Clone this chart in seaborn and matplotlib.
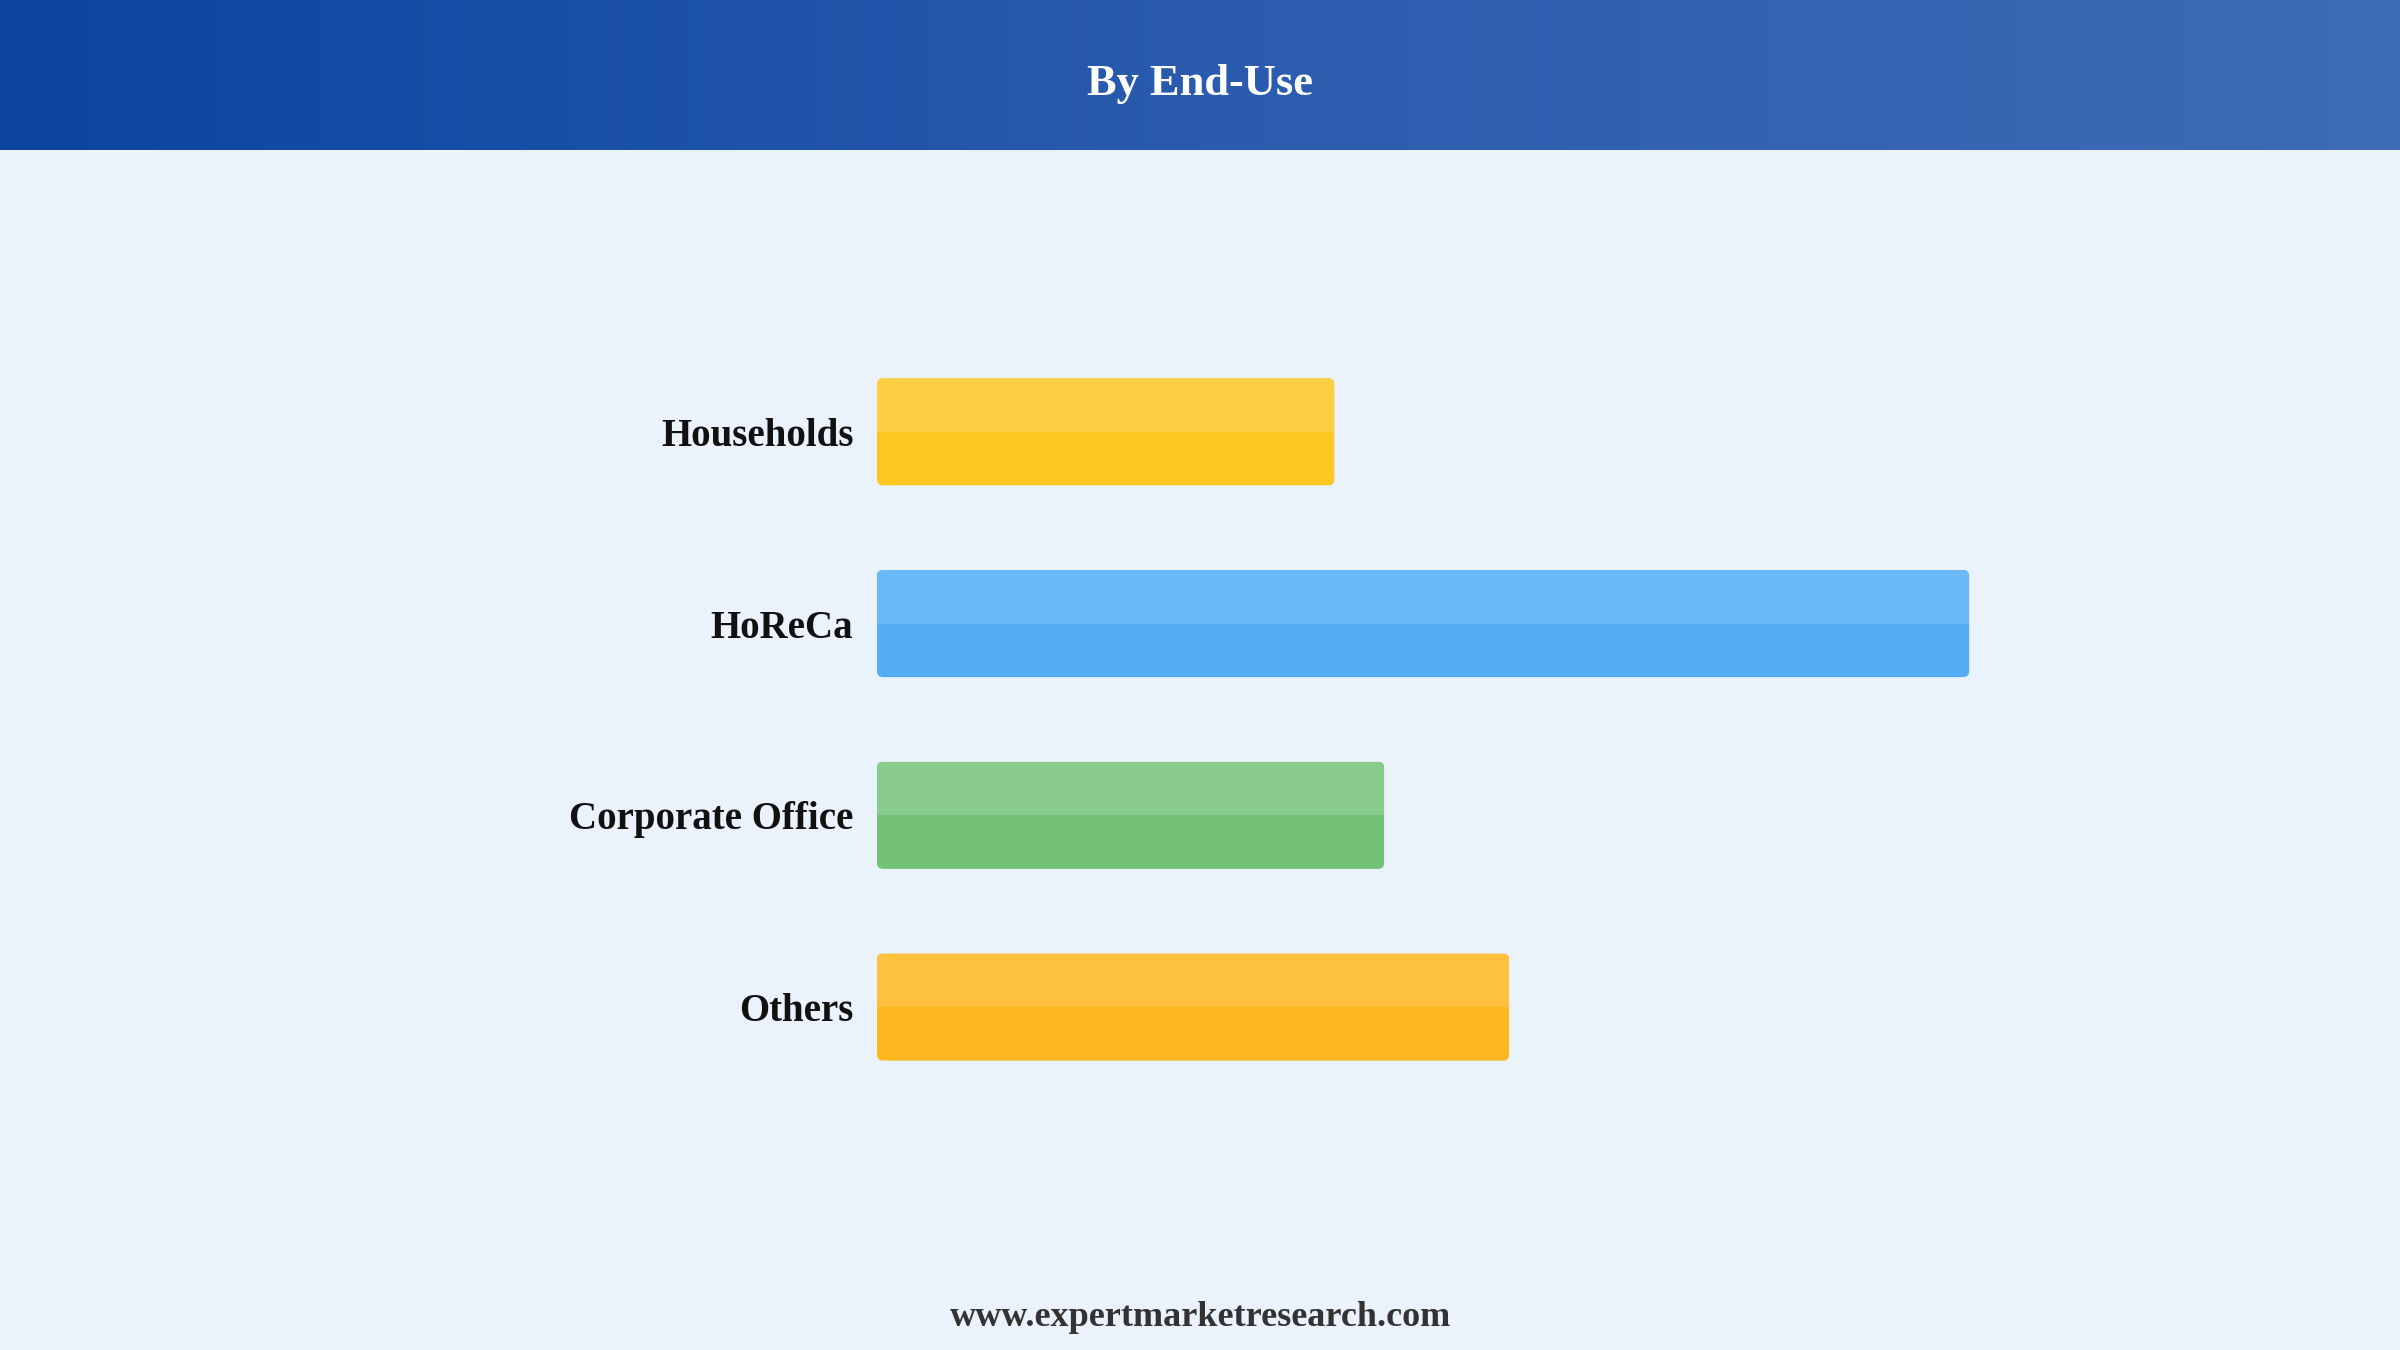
import numpy as np
import seaborn as sns
import matplotlib.pyplot as plt
from matplotlib.colors import LinearSegmentedColormap
from matplotlib.patches import FancyBboxPatch, Rectangle

# data
categories = ["Households", "HoReCa", "Corporate Office", "Others"]
shares = [17.0, 40.6, 18.85, 23.5]
dark_colors = ["#FDC620", "#52ADF4", "#72C177", "#FDB820"]
light_colors = ["#FDCD44", "#6BB8F7", "#89CB8B", "#FEC23E"]

BG = "#EAF2FC"

sns.set_style("white")
plt.rcParams['font.family'] = ['Liberation Serif', 'DejaVu Serif']

fig = plt.figure(figsize=(24, 13.5), dpi=100, facecolor=BG)

# header band with gradient
hdr = fig.add_axes([0, 1 - 150 / 1350, 1, 150 / 1350])
grad = np.linspace(0, 1, 512).reshape(1, -1)
cmap = LinearSegmentedColormap.from_list("hdr", ["#0B44A0", "#2A5BAE", "#3D6CB5"])
hdr.imshow(grad, aspect="auto", cmap=cmap, extent=[0, 1, 0, 1])
hdr.set_axis_off()
hdr.text(0.5, 0.44, "By End-Use", color="white", fontsize=32, fontweight="bold",
         ha="center", va="center", transform=hdr.transAxes)

# main bar chart
ax = fig.add_axes([877 / 2400, 1 - 1103 / 1350, 1283 / 2400, 767 / 1350])
ax.set_facecolor(BG)
sns.barplot(x=shares, y=categories, hue=categories, palette=dark_colors,
            width=0.558, orient="h", legend=False, ax=ax)
ax.set_xlim(0, 1283 / 26.9)
ax.set_ylim(3.5, -0.5)

# swap plain bars for rounded two-tone ones
px_per_x = 26.9
px_per_y = 767 / 4
aspect = px_per_x / px_per_y
radius = 6 / px_per_x
patches = sorted(ax.patches, key=lambda p: p.get_y())
for i, p in enumerate(patches):
    x0, y0, w, h = p.get_x(), p.get_y(), p.get_width(), p.get_height()
    p.set_visible(False)
    base = FancyBboxPatch((x0, y0), w, h, boxstyle=f"round,pad=0,rounding_size={radius}",
                          mutation_aspect=aspect, facecolor=dark_colors[i], edgecolor="none")
    ax.add_patch(base)
    top = FancyBboxPatch((x0, y0), w, h, boxstyle=f"round,pad=0,rounding_size={radius}",
                         mutation_aspect=aspect, facecolor=light_colors[i], edgecolor="none")
    ax.add_patch(top)
    clip = Rectangle((x0, y0), w, h / 2, transform=ax.transData)
    top.set_clip_path(clip)

sns.despine(ax=ax, left=True, bottom=True)
ax.set_xticks([])
ax.set_xlabel("")
ax.set_ylabel("")
ax.tick_params(axis="y", length=0, pad=17)
for lbl in ax.get_yticklabels():
    lbl.set_fontsize(28)
    lbl.set_fontweight("bold")
    lbl.set_color("#111111")

fig.text(0.5, 0.024, "www.expertmarketresearch.com", color="#333333", fontsize=26,
         fontweight="bold", ha="center", va="center")

fig.savefig("out.png", dpi=100, facecolor=BG)
